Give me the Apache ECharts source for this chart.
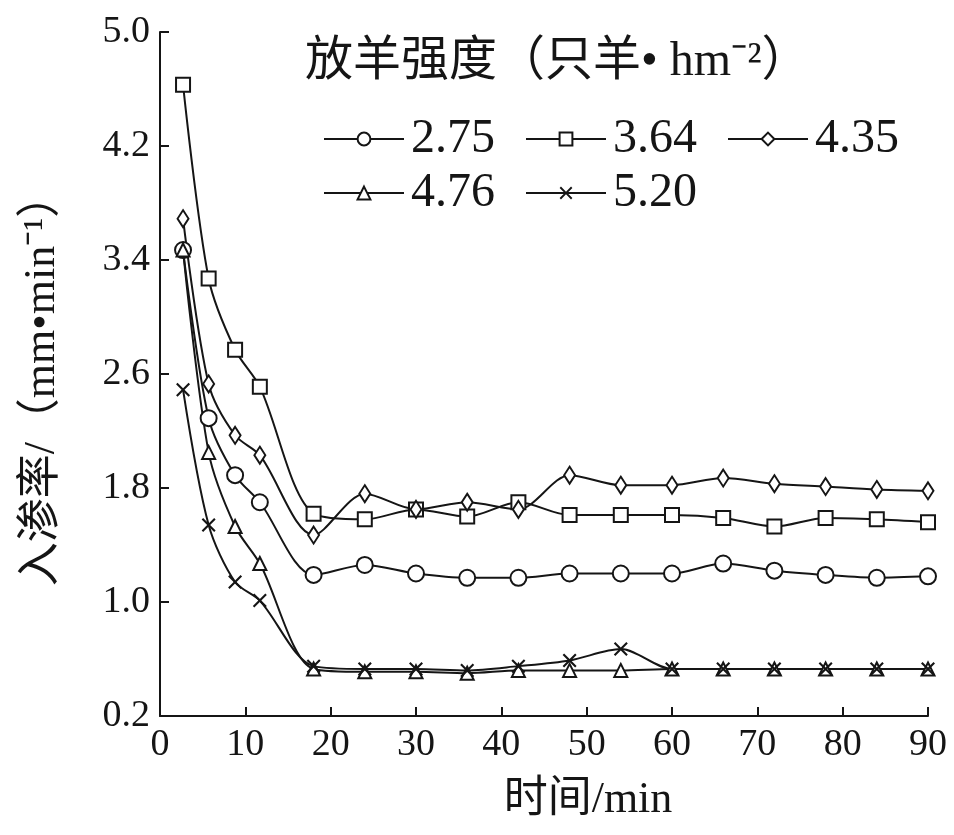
<!DOCTYPE html>
<html>
<head>
<meta charset="UTF-8">
<title>入渗率</title>
<script src="https://cdn.jsdelivr.net/npm/echarts@6/dist/echarts.min.js"></script>
<style>
  html, body { margin: 0; padding: 0; background: #fff; }
  #main { width: 954px; height: 835px; }
</style>
</head>
<body>
<div id="main"></div>
<script type="text/javascript">
    // 时间 (min)
    var times = [2.7, 5.7, 8.8, 11.7, 18, 24, 30, 36, 42, 48, 54, 60, 66, 72, 78, 84, 90];
    // 放羊强度 (只羊•hm-2)
    var names = ['2.75', '3.64', '4.35', '4.76', '5.20'];
    var s275 = [3.47, 2.29, 1.89, 1.70, 1.19, 1.26, 1.20, 1.17, 1.17, 1.20, 1.20, 1.20, 1.27, 1.22, 1.19, 1.17, 1.18];
    var s364 = [4.63, 3.27, 2.77, 2.51, 1.62, 1.58, 1.65, 1.60, 1.70, 1.61, 1.61, 1.61, 1.59, 1.53, 1.59, 1.58, 1.56];
    var s435 = [3.69, 2.53, 2.17, 2.03, 1.47, 1.76, 1.65, 1.70, 1.65, 1.89, 1.82, 1.82, 1.87, 1.83, 1.81, 1.79, 1.78];
    var s476 = [3.47, 2.05, 1.53, 1.27, 0.53, 0.51, 0.51, 0.50, 0.52, 0.52, 0.52, 0.53, 0.53, 0.53, 0.53, 0.53, 0.53];
    var s520 = [2.49, 1.54, 1.14, 1.01, 0.55, 0.53, 0.53, 0.52, 0.55, 0.59, 0.67, 0.53, 0.53, 0.53, 0.53, 0.53, 0.53];

    var ink = '#151515';
    var serif = "'Liberation Serif', 'Noto Sans CJK SC', serif";
    var crossPath = 'path://M0,1.5L1.5,0L7,5.5L12.5,0L14,1.5L8.5,7L14,12.5L12.5,14L7,8.5L1.5,14L0,12.5L5.5,7Z';

    function pairs(vals) {
        var out = [];
        for (var i = 0; i < times.length; i++) out.push([times[i], vals[i]]);
        return out;
    }

    function makeSeries(name, vals, symbol, size) {
        var solid = symbol === crossPath;
        return {
            name: name,
            type: 'line',
            data: pairs(vals),
            smooth: 0.3,
            symbol: symbol,
            symbolSize: size,
            showAllSymbol: true,
            lineStyle: { color: ink, width: 2 },
            itemStyle: solid
                ? { color: ink, borderWidth: 0 }
                : { color: '#fff', borderColor: ink, borderWidth: 2 },
            emphasis: { disabled: true }
        };
    }

    var myChart = echarts.init(document.getElementById('main'));

    var legendBase = {
        itemWidth: 80,
        itemHeight: 16,
        itemGap: 30,
        textStyle: { fontFamily: serif, fontSize: 48, color: ink, padding: [0, 0, 0, 2] }
    };

    option = {
        animation: false,
        backgroundColor: '#fff',
        title: {
            text: '放羊强度（只羊• hm⁻²）',
            left: 300,
            top: 33,
            textStyle: { fontFamily: serif, fontSize: 48, fontWeight: 'normal', color: ink }
        },
        legend: [
            Object.assign({}, legendBase, { data: ['2.75', '3.64', '4.35'], left: 318, top: 110 }),
            Object.assign({}, legendBase, { data: ['4.76', '5.20'], left: 318, top: 164 })
        ],
        grid: {
            left: 160,
            right: 26,
            top: 32,
            bottom: 119
        },
        xAxis: {
            type: 'value',
            min: 0,
            max: 90,
            interval: 10,
            name: '时间/min',
            nameLocation: 'middle',
            nameGap: 62,
            nameTextStyle: { fontFamily: serif, fontSize: 44, color: ink, padding: [0, 0, 0, 88] },
            axisLine: { lineStyle: { color: ink, width: 2 } },
            axisTick: { inside: true, length: 9, lineStyle: { color: ink, width: 2 } },
            axisLabel: { fontFamily: serif, fontSize: 38, color: ink, margin: 10 },
            splitLine: { show: false }
        },
        yAxis: {
            type: 'value',
            min: 0.2,
            max: 5.0,
            interval: 0.8,
            name: '入渗率/（mm•min⁻¹）',
            nameLocation: 'middle',
            nameGap: 96,
            nameRotate: 90,
            nameTextStyle: { fontFamily: serif, fontSize: 44, color: ink, padding: [0, 12, 0, 0] },
            axisLine: { show: true, lineStyle: { color: ink, width: 2 } },
            axisTick: { show: true, inside: true, length: 9, lineStyle: { color: ink, width: 2 } },
            axisLabel: {
                fontFamily: serif, fontSize: 38, color: ink, margin: 10,
                formatter: function (v) { return v.toFixed(1); }
            },
            splitLine: { show: false }
        },
        series: [
            makeSeries(names[0], s275, 'circle', 16),
            makeSeries(names[1], s364, 'rect', 14),
            makeSeries(names[2], s435, 'diamond', [11, 17]),
            makeSeries(names[3], s476, 'triangle', 13),
            makeSeries(names[4], s520, crossPath, 14)
        ]
    };

    myChart.setOption(option);
</script>
</body>
</html>
